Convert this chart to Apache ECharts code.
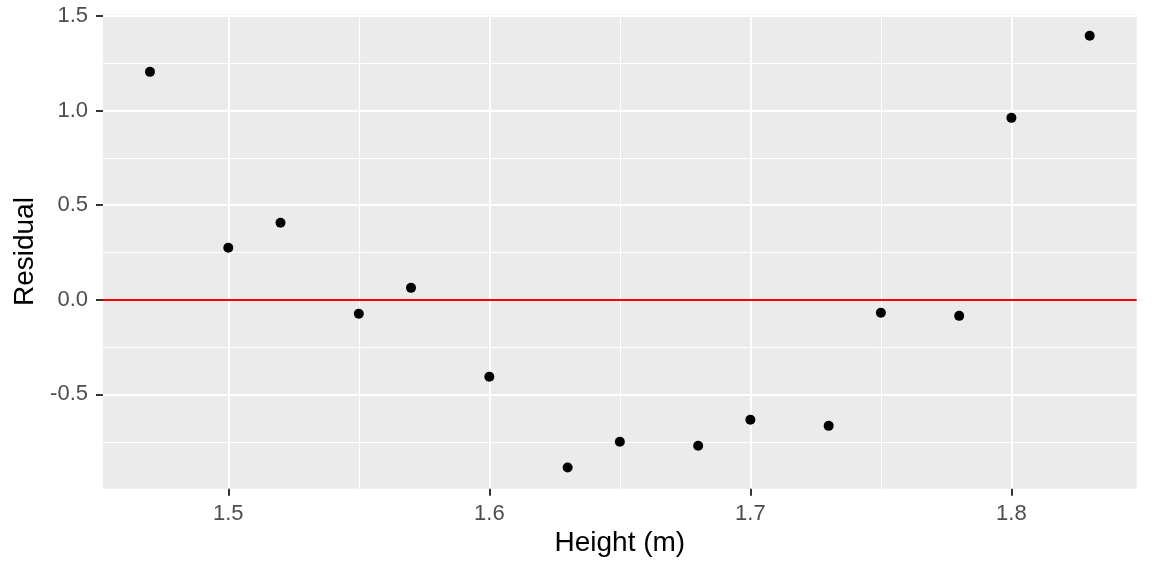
<!DOCTYPE html>
<html lang="en">
  <head>
    <meta charset="UTF-8" />
    <title>Residuals</title>
    <script src="https://cdn.jsdelivr.net/npm/echarts@6/dist/echarts.min.js"></script>
    <style>
      html, body {
        margin: 0;
        padding: 0;
        background: #ffffff;
      }
      #chart {
        width: 1152px;
        height: 576px;
      }
    </style>
  </head>
  <body>
    <div id="chart"></div>
    <script>
      // data
      const heights = [1.47, 1.5, 1.52, 1.55, 1.57, 1.6, 1.63, 1.65, 1.68, 1.7, 1.73, 1.75, 1.78, 1.8, 1.83];
      const residuals = [1.204, 0.275, 0.407, -0.074, 0.063, -0.407, -0.886, -0.75, -0.771, -0.634, -0.666, -0.069, -0.085, 0.961, 1.395];
      const hline = 0;

      // axis breaks
      const xBreaks = [1.5, 1.6, 1.7, 1.8];
      const xMinor = [1.55, 1.65, 1.75];
      const yBreaks = [-0.5, 0, 0.5, 1, 1.5];
      const yMinor = [-0.75, -0.25, 0.25, 0.75, 1.25];
      const xRange = [1.452, 1.848];
      const yRange = [-0.998, 1.507];

      const font = "'Liberation Sans', Arial, sans-serif";
      const chart = echarts.init(document.getElementById("chart"));

      const points = heights.map((h, i) => [h, residuals[i]]);

      // hidden axis that only carries the thin minor grid lines
      function minorAxis(range, values) {
        return {
          type: "value",
          min: range[0],
          max: range[1],
          axisLine: { show: false, onZero: false },
          axisLabel: { show: false },
          axisTick: { show: false, customValues: values },
          splitLine: { show: true, lineStyle: { color: "#ffffff", width: 1 } }
        };
      }

      chart.setOption({
        animation: false,
        backgroundColor: "#ffffff",
        grid: {
          left: 103,
          right: 15.3,
          top: 14.5,
          bottom: 87.3,
          show: true,
          backgroundColor: "#EBEBEB",
          borderWidth: 0
        },
        xAxis: [
          {
            type: "value",
            position: "bottom",
            min: xRange[0],
            max: xRange[1],
            name: "Height (m)",
            nameLocation: "middle",
            nameGap: 41,
            nameTextStyle: { color: "#000000", fontSize: 28, fontFamily: font },
            axisLine: { show: false, onZero: false },
            axisTick: {
              show: true,
              length: 7,
              customValues: xBreaks,
              lineStyle: { color: "#333333", width: 2 }
            },
            axisLabel: {
              margin: 14,
              customValues: xBreaks,
              color: "#4D4D4D",
              fontSize: 22,
              fontFamily: font,
              formatter: v => v.toFixed(1)
            },
            splitLine: { show: true, lineStyle: { color: "#ffffff", width: 2 } }
          },
          minorAxis(xRange, xMinor)
        ],
        yAxis: [
          {
            type: "value",
            position: "left",
            min: yRange[0],
            max: yRange[1],
            name: "Residual",
            nameLocation: "middle",
            nameGap: 62,
            nameTextStyle: { color: "#000000", fontSize: 28, fontFamily: font },
            axisLine: { show: false, onZero: false },
            axisTick: {
              show: true,
              length: 7,
              customValues: yBreaks,
              lineStyle: { color: "#333333", width: 2 }
            },
            axisLabel: {
              margin: 15,
              customValues: yBreaks,
              color: "#4D4D4D",
              fontSize: 22,
              fontFamily: font,
              formatter: v => v.toFixed(1)
            },
            splitLine: { show: true, lineStyle: { color: "#ffffff", width: 2 } }
          },
          minorAxis(yRange, yMinor)
        ],
        series: [
          {
            type: "scatter",
            data: points,
            symbol: "circle",
            symbolSize: 10,
            itemStyle: { color: "#000000", opacity: 1 },
            silent: true,
            markLine: {
              silent: true,
              symbol: "none",
              label: { show: false },
              lineStyle: { color: "#FF0000", width: 1.8, type: "solid", opacity: 1 },
              data: [{ yAxis: hline }]
            }
          }
        ]
      });
    </script>
  </body>
</html>
